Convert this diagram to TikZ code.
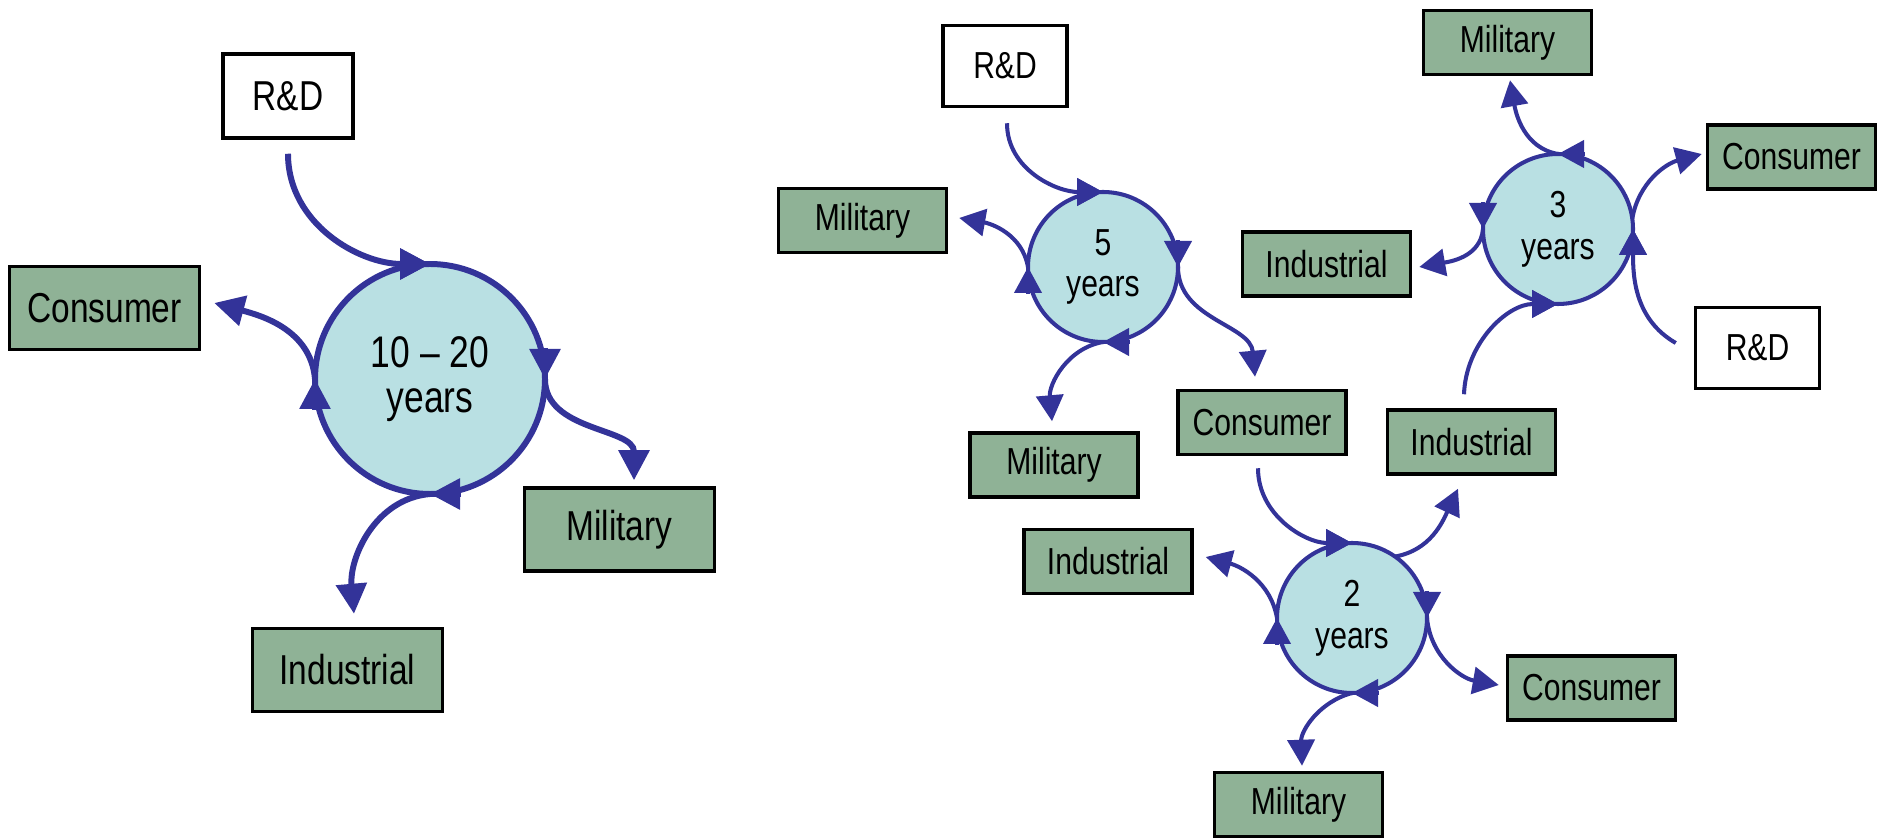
\documentclass[tikz,border=0pt]{standalone}
\usepackage{fontspec}
\setmainfont{Liberation Sans}[FakeStretch=0.8]
\usetikzlibrary{arrows.meta}

\definecolor{pfeilblau}{RGB}{51,51,153}
\definecolor{kastengruen}{RGB}{143,178,150}
\definecolor{kreisblau}{RGB}{185,224,227}

\tikzset{
	kasten/.style={draw=black, line width=1pt, fill=kastengruen, inner sep=0pt,
		minimum width=1.68cm, minimum height=0.64cm, font=\fontsize{10.7}{12}\selectfont},
	rdkasten/.style={kasten, fill=white, minimum width=1.24cm, minimum height=0.81cm},
	gross/.style={minimum width=1.9cm, minimum height=0.83cm, font=\fontsize{11.9}{13}\selectfont},
	grossrd/.style={minimum width=1.3cm, minimum height=0.84cm, font=\fontsize{11.9}{13}\selectfont},
	kreis/.style={circle, draw=pfeilblau, line width=1.15pt, fill=kreisblau, inner sep=0pt,
		outer sep=0pt, minimum size=1.5cm, align=center, font=\fontsize{10.7}{11.9}\selectfont},
	grosskreis/.style={line width=1.7pt, minimum size=2.3cm, font=\fontsize{12.6}{12.8}\selectfont},
	pfeil/.style={draw=pfeilblau, line width=1.15pt, -{Triangle[length=2.6mm, width=2.7mm]}},
	dickpfeil/.style={draw=pfeilblau, line width=1.7pt, -{Triangle[length=3mm, width=3mm]}}
}

\begin{document}
\begin{tikzpicture}
	\useasboundingbox (0, 0) rectangle (18.79, 8.37);
	% Linker Kreis (10 - 20 Jahre)
	\node[kreis, grosskreis] (c1) at (4.30, 4.58) {10 – 20\\years};
	\node[rdkasten, grossrd] (rd1) at (2.88, 7.41) {R\&D};
	\node[kasten, gross] (kon1) at (1.045, 5.29) {Consumer};
	\node[kasten, gross] (mil1) at (6.195, 3.075) {Military};
	\node[kasten, gross] (ind1) at (3.475, 1.67) {Industrial};
	\draw[dickpfeil] ([yshift=-1.4mm]rd1.south) to[out=-90, in=180] (c1.90);
	\draw[dickpfeil] (c1.180) to[out=95, in=-15] ([xshift=1.3mm, yshift=0.5mm]kon1.east);
	\draw[dickpfeil] (c1.0) to[out=-90, in=90] ([xshift=1.45mm, yshift=0.6mm]mil1.north);
	\draw[dickpfeil] (c1.-90) to[out=185, in=95] ([xshift=0.65mm, yshift=1.3mm]ind1.north);
	\foreach \a in {180, 90, 0, -90}
		\draw[dickpfeil] ([shift={(\a+90:3.1mm)}]c1.\a) -- (c1.\a);

	% Kreis 5 Jahre
	\node[kreis] (c2) at (11.03, 5.70) {5\\years};
	\node[rdkasten] (rd2) at (10.05, 7.71) {R\&D};
	\node[kasten] (mil2a) at (8.625, 6.165) {Military};
	\node[kasten] (mil2b) at (10.54, 3.72) {Military};
	\node[kasten] (kon2) at (12.62, 4.145) {Consumer};
	\draw[pfeil] ([xshift=0.2mm, yshift=-1.5mm]rd2.south) to[out=-90, in=180] (c2.90);
	\draw[pfeil] (c2.180) to[out=100, in=-10] ([xshift=1.1mm, yshift=0.25mm]mil2a.east);
	\draw[pfeil] (c2.-90) to[out=190, in=95] ([xshift=-0.2mm, yshift=1mm]mil2b.north);
	\draw[pfeil] (c2.0) to[out=-90, in=95] ([xshift=-0.7mm, yshift=1.2mm]kon2.north);
	\foreach \a in {180, 90, 0, -90}
		\draw[pfeil] ([shift={(\a+90:2.7mm)}]c2.\a) -- (c2.\a);

	% Kreis 3 Jahre
	\node[kreis] (c3) at (15.58, 6.08) {3\\years};
	\node[kasten] (mil3) at (15.075, 7.945) {Military};
	\node[kasten] (kon3) at (17.915, 6.80) {Consumer};
	\node[kasten] (ind3a) at (13.265, 5.73) {Industrial};
	\node[rdkasten] (rd3) at (17.575, 4.89) {R\&D};
	\node[kasten] (ind3b) at (14.715, 3.95) {Industrial};
	\draw[pfeil] (c3.90) to[out=170, in=-80] ([xshift=0.25mm, yshift=-0.4mm]mil3.south);
	\draw[pfeil] (c3.8) to[out=80, in=195] ([xshift=-0.4mm, yshift=0.3mm]kon3.west);
	\draw[pfeil] (c3.180) to[out=-95, in=10] ([xshift=0.7mm, yshift=-0.3mm]ind3a.east);
	\draw[pfeil] ([xshift=-1.8mm, yshift=0.5mm]rd3.west) to[out=150, in=-90] (c3.0);
	\draw[pfeil] ([xshift=-0.75mm, yshift=1.4mm]ind3b.north) to[out=88, in=180] (c3.-90);
	\foreach \a in {0, 90, 180, 270}
		\draw[pfeil] ([shift={(\a-90:2.7mm)}]c3.\a) -- (c3.\a);

	% Kreis 2 Jahre
	\node[kreis] (c4) at (13.52, 2.19) {2\\years};
	\node[kasten] (ind4) at (11.08, 2.755) {Industrial};
	\node[kasten] (kon4) at (15.915, 1.49) {Consumer};
	\node[kasten] (mil4) at (12.985, 0.325) {Military};
	\draw[pfeil] ([xshift=-0.4mm, yshift=-1.2mm]kon2.south) to[out=-90, in=180] (c4.90);
	\draw[pfeil] (c4.180) to[out=100, in=-15] ([xshift=1.2mm, yshift=0.45mm]ind4.east);
	\draw[pfeil] (c4.55) to[out=10, in=-115] ([xshift=-1.35mm, yshift=-1.3mm]ind3b.south);
	\draw[pfeil] (c4.0) to[out=-85, in=170] ([xshift=-0.7mm, yshift=0.3mm]kon4.west);
	\draw[pfeil] (c4.-90) to[out=195, in=92] ([xshift=0.35mm, yshift=0.5mm]mil4.north);
	\foreach \a in {180, 90, 0, -90}
		\draw[pfeil] ([shift={(\a+90:2.7mm)}]c4.\a) -- (c4.\a);
\end{tikzpicture}
\end{document}
